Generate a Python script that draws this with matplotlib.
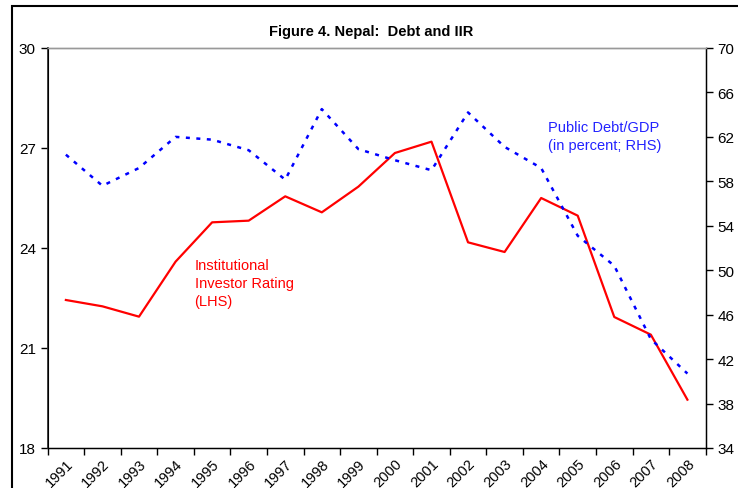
import matplotlib
matplotlib.use("Agg")
import matplotlib.pyplot as plt
from matplotlib.patches import Rectangle
import numpy as np

plt.rcParams["font.family"] = ["Liberation Sans", "DejaVu Sans"]

# Dados
anos = ["1991", "1992", "1993", "1994", "1995", "1996", "1997", "1998", "1999",
        "2000", "2001", "2002", "2003", "2004", "2005", "2006", "2007", "2008"]
iir = [22.44, 22.25, 21.94, 23.59, 24.77, 24.82, 25.55, 25.07, 25.84,
       26.85, 27.19, 24.17, 23.88, 25.50, 24.97, 21.93, 21.40, 19.45]
divida_pib = [60.4, 57.6, 59.2, 62.0, 61.75, 60.8, 58.15, 64.5, 60.9,
              59.9, 59.0, 64.2, 61.1, 59.2, 53.1, 50.4, 43.8, 40.7]

x = np.arange(len(anos))

fig = plt.figure(figsize=(7.38, 4.89), dpi=100)
ax = fig.add_axes([0.0645, 0.0818, 0.8917, 0.818])
ax2 = ax.twinx()

# Moldura externa da figura (cortada à direita e embaixo)
fig.patches.append(Rectangle((12 / 738, -0.05), 1.1, 1 - 7 / 489 + 0.05,
                             transform=fig.transFigure, fill=False,
                             edgecolor="black", linewidth=1.5))

ax.plot(x, iir, color="#ff0000", linewidth=1.6, zorder=3)
ax2.plot(x, divida_pib, color="#0000ff", linewidth=1.8, dashes=(1.6, 2.6))

ax.set_xlim(-0.5, len(anos) - 0.5)
ax.set_ylim(18, 30)
ax.set_yticks([18, 21, 24, 27, 30])
ax2.set_ylim(34, 70)
ax2.set_yticks(np.arange(34, 71, 4))

# Eixo de categorias: marcas nas fronteiras, rótulos no centro
ax.set_xticks(np.arange(-0.5, len(anos), 1.0))
ax.set_xticklabels([])
ax.set_xticks(x, minor=True)
ax.set_xticklabels(anos, minor=True, rotation=45, ha="right",
                   rotation_mode="anchor", fontsize=10.5)
ax.tick_params(axis="x", which="minor", length=0, pad=6)
ax.tick_params(axis="x", which="major", length=5, width=1, direction="out")

ax.tick_params(axis="y", length=5, width=1, labelsize=11, direction="out")
ax2.tick_params(axis="y", length=5, width=1, labelsize=11, direction="out")

for a in (ax, ax2):
    a.spines["top"].set_color("#999999")
    a.spines["top"].set_linewidth(1)
ax.spines["left"].set_color("#333333")
ax.spines["left"].set_linewidth(1.3)
ax2.spines["right"].set_linewidth(1)
ax.spines["bottom"].set_linewidth(1)

ax.text(3.52, 22.95, "Institutional\nInvestor Rating\n(LHS)", color="#ff0000",
        fontsize=10.5, va="center", ha="left", linespacing=1.4)
ax2.text(13.2, 62.1, "Public Debt/GDP\n(in percent; RHS)", color="#2222ff",
         fontsize=10.5, va="center", ha="left", linespacing=1.4)

fig.text(0.503, 0.935, "Figure 4. Nepal:  Debt and IIR", ha="center", va="center",
         fontsize=10.5, fontweight="bold")

fig.savefig("out.png", dpi=100)
